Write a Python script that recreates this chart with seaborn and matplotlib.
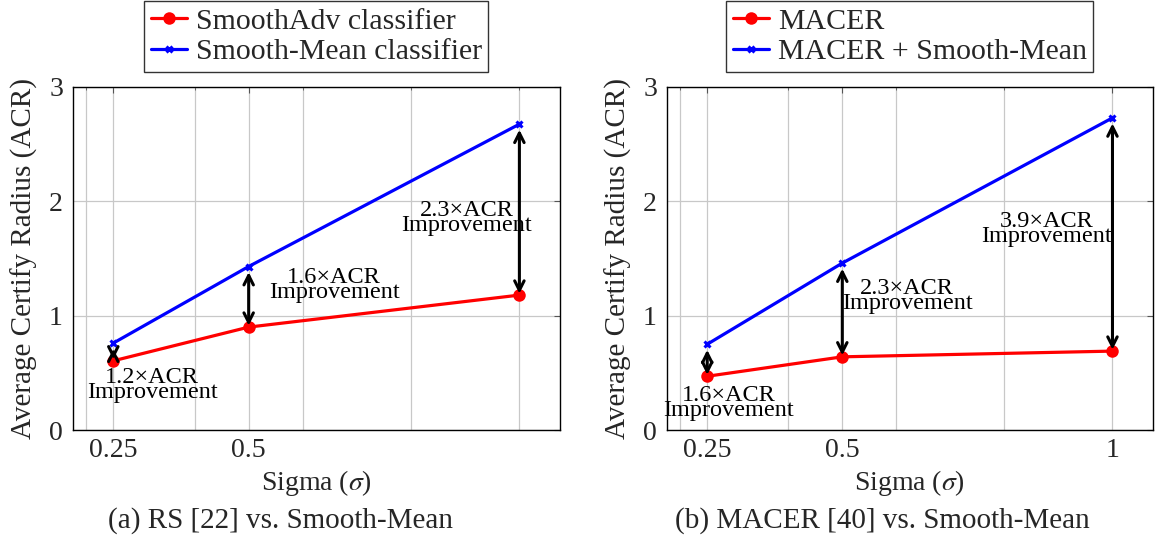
import matplotlib
matplotlib.use("Agg")
import matplotlib.pyplot as plt
import seaborn as sns
import pandas as pd

# ---------------- data ----------------
sigma = [0.25, 0.5, 1.0]
smoothadv = [0.605, 0.90, 1.18]
smoothmean_a = [0.76, 1.43, 2.675]
macer = [0.47, 0.64, 0.69]
macer_sm = [0.75, 1.46, 2.73]
ratios_a = ["1.2", "1.6", "2.3"]
ratios_b = ["1.6", "2.3", "3.9"]
labels_a = ["SmoothAdv classifier", "Smooth-Mean classifier"]
labels_b = ["MACER", "MACER + Smooth-Mean"]
xticks_a = [0.25, 0.5]
xticklabels_a = ["0.25", "0.5"]
xticks_b = [0.25, 0.5, 1.0]
xticklabels_b = ["0.25", "0.5", "1"]
yticks = [0, 1, 2, 3]
minor_x = [0.2, 0.4, 0.6, 0.8, 1.0]
captions = ["(a) RS [22] vs. Smooth-Mean", "(b) MACER [40] vs. Smooth-Mean"]
xlabel = "Sigma ($\\sigma$)"
ylabel = "Average Certify Radius (ACR)"

# ---------------- layout ----------------
text_pos_a = [(0.322, 0.39), (0.658, 1.27), (0.9025, 1.855)]
text_pos_b = [(0.29, 0.236), (0.62, 1.17), (0.8775, 1.76)]

sns.set_style("white")
plt.rcParams["font.family"] = ["Liberation Serif", "DejaVu Serif"]
plt.rcParams["mathtext.fontset"] = "stix"

fig = plt.figure(figsize=(11.56, 5.39), dpi=100)
W, H = 1156, 539
ax_a = fig.add_axes([72.7 / W, 1 - 430 / H, 487.3 / W, 343 / H])
ax_b = fig.add_axes([666.7 / W, 1 - 430 / H, 486.3 / W, 343 / H])


def draw(ax, low, high, labels, ratios, tpos, xt, xtl, caption, cap_x):
    sns.lineplot(x=sigma, y=low, ax=ax, color="red", marker="o",
                 markersize=9, markeredgewidth=0, markeredgecolor="red",
                 linewidth=2.3, legend=False)
    sns.lineplot(x=sigma, y=high, ax=ax, color="blue", marker="x",
                 markersize=4, markeredgewidth=2.2, markeredgecolor="blue",
                 linewidth=2.3, legend=False)
    lines = ax.get_lines()
    ax.set_xlim(0.175, 1.075)
    ax.set_ylim(0, 3)
    ax.set_xticks(xt)
    ax.set_xticklabels(xtl)
    ax.set_xticks(minor_x, minor=True)
    ax.set_yticks(yticks)
    ax.set_yticklabels([str(v) for v in yticks])
    ax.grid(True, which="both", axis="x", color="#c8c8c8", linewidth=0.9)
    ax.grid(True, which="major", axis="y", color="#c8c8c8", linewidth=0.9)
    ax.set_axisbelow(True)
    ax.tick_params(which="both", direction="in", top=True, right=True,
                   labelsize=20, color="#555555")
    ax.tick_params(which="major", length=4, width=0.8)
    ax.tick_params(which="minor", length=2.5, width=0.6)
    ax.tick_params(axis="y", pad=7)
    ax.tick_params(axis="x", pad=6)
    for s in ax.spines.values():
        s.set_color("black")
        s.set_linewidth(1.0)
    ax.set_xlabel(xlabel, fontsize=20, labelpad=3)
    ax.set_ylabel(ylabel, fontsize=21, labelpad=8)

    for i, x in enumerate(sigma):
        ax.annotate("", xy=(x, high[i]), xytext=(x, low[i]),
                    arrowprops=dict(arrowstyle="<->", color="black", lw=2.2,
                                    shrinkA=1, shrinkB=4, mutation_scale=17))
        tx, ty = tpos[i]
        ax.text(tx, ty, ratios[i] + "\u00d7ACR\nImprovement", ha="center",
                va="center", fontsize=17.5, linespacing=0.62, color="black")

    leg = ax.legend(lines[:2], labels, loc="lower center",
                    bbox_to_anchor=(0.5, 1.0 + 15 / 343), fontsize=21.5,
                    frameon=True, fancybox=False, edgecolor="black",
                    handlelength=1.2, handletextpad=0.3, labelspacing=0.12,
                    borderpad=0.22, borderaxespad=0)
    leg.get_frame().set_linewidth(1.0)
    fig.text(cap_x / W, 1 - 521 / H, caption, ha="center", va="center",
             fontsize=21)


draw(ax_a, smoothadv, smoothmean_a, labels_a, ratios_a, text_pos_a,
     xticks_a, xticklabels_a, captions[0], 280)
draw(ax_b, macer, macer_sm, labels_b, ratios_b, text_pos_b,
     xticks_b, xticklabels_b, captions[1], 882)

fig.savefig("out.png", dpi=100)
